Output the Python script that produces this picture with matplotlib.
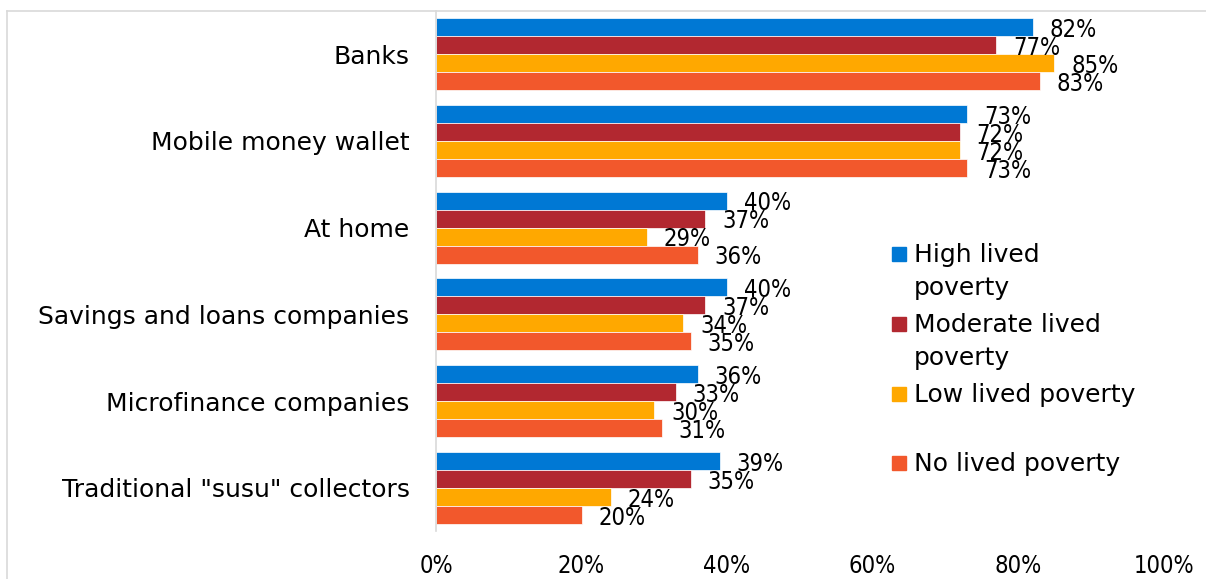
import numpy as np
import matplotlib
matplotlib.use("Agg")
import matplotlib.pyplot as plt
from matplotlib.patches import Rectangle
from matplotlib.lines import Line2D

# data
categories = ["Banks", "Mobile money wallet", "At home",
              "Savings and loans companies", "Microfinance companies",
              'Traditional "susu" collectors']
series_names = ["High lived\npoverty", "Moderate lived\npoverty",
                "Low lived poverty", "No lived poverty"]
high_vals = [82, 73, 40, 40, 36, 39]
moderate_vals = [77, 72, 37, 37, 33, 35]
low_vals = [85, 72, 29, 34, 30, 24]
none_vals = [83, 73, 36, 35, 31, 20]
x_ticks = [0, 20, 40, 60, 80, 100]

colors = ["#0078D4", "#B22830", "#FFA800", "#F2582C"]
series = [high_vals, moderate_vals, low_vals, none_vals]

W, H = 1206, 579
fig = plt.figure(figsize=(W / 100, H / 100), dpi=100)
ax = fig.add_axes([436 / W, 1 - 531.4 / H, 727.6 / W, 520.8 / H])

bar_h = 0.2075
y = np.arange(len(categories))
for i, (vals, c) in enumerate(zip(series, colors)):
    pos = y - 1.5 * bar_h + i * bar_h
    ax.barh(pos, vals, height=bar_h, color=c, edgecolor="white", linewidth=0.5)
    for p, v in zip(pos, vals):
        ax.annotate(f"{v}%", (v, p), xytext=(12, -2), textcoords="offset points",
                    ha="left", va="center", fontsize=17, fontstretch="condensed",
                    color="black")

ax.set_xlim(0, 100)
ax.set_ylim(len(categories) - 0.5, -0.5)
ax.set_yticks(y)
ax.set_yticklabels(categories, fontsize=18)
ax.set_xticks(x_ticks)
ax.set_xticklabels([f"{t}%" for t in x_ticks], fontsize=17, fontstretch="condensed")
ax.tick_params(axis="y", length=0, pad=19)
ax.tick_params(axis="x", length=0, pad=16)
for s in ["top", "right", "bottom"]:
    ax.spines[s].set_visible(False)
ax.spines["left"].set_color("#D9D9D9")
ax.spines["left"].set_linewidth(1.2)

# legend, drawn by hand so the marker sits on the first line
leg_y = [254, 324, 394, 463]
for name, c, yc in zip(series_names, colors, leg_y):
    fig.add_artist(Rectangle((892 / W, 1 - (yc + 7) / H), 14 / W, 14 / H,
                             transform=fig.transFigure, color=c))
    for k, line in enumerate(name.split("\n")):
        fig.text(914 / W, 1 - (yc + 8 + 32.5 * k) / H, line, fontsize=18,
                 ha="left", va="baseline")

# thin outer chart frame
fig.add_artist(Line2D([7 / W, 1], [1 - 11 / H, 1 - 11 / H], color="#D9D9D9", lw=1.2,
                      transform=fig.transFigure))
fig.add_artist(Line2D([7 / W, 7 / W], [0, 1 - 11 / H], color="#D9D9D9", lw=1.2,
                      transform=fig.transFigure))

fig.savefig("out.png", dpi=100)
